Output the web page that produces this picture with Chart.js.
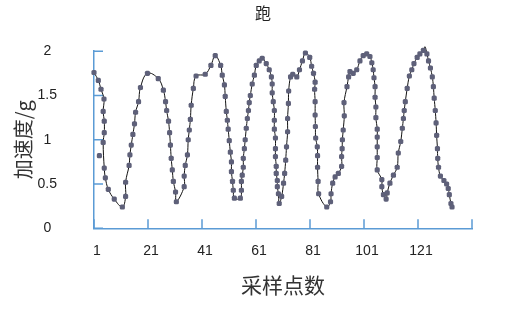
<!DOCTYPE html>
<html>
<head>
<meta charset="utf-8">
<script src="https://cdn.jsdelivr.net/npm/chart.js@4.4.0/dist/chart.umd.min.js"></script>
<style>
html, body { margin: 0; padding: 0; background: #fff; }
</style>
</head>
<body>
<canvas id="runChart" width="515" height="317"></canvas>
<script>
// sample index (x) and acceleration in g (y)
const sampleX = [
    1.0, 2.6, 3.6, 4.7, 4.4, 4.8, 4.8, 4.4, 3.0, 4.8, 5.2, 6.3, 8.5, 11.5, 12.7, 12.7, 14.0, 14.3, 14.8, 15.4,
    16.0, 16.4, 17.5, 18.2, 20.8, 24.8, 26.7, 27.5, 27.9, 28.6, 29.0, 29.3, 29.6, 30.0, 30.4, 31.2, 31.5, 34.4, 34.4, 34.8,
    35.6, 35.9, 36.3, 36.7, 37.0, 37.8, 38.8, 42.2, 44.3, 45.9, 47.9, 48.5, 49.3, 49.6, 50.0, 50.4, 50.7, 51.1, 51.5, 51.9,
    51.9, 52.3, 52.6, 53.0, 55.2, 55.6, 55.6, 55.9, 56.3, 56.3, 56.7, 57.0, 57.4, 57.8, 58.2, 58.5, 58.9, 59.6, 60.4, 61.1,
    62.2, 63.3, 64.8, 65.9, 66.7, 67.0, 67.0, 67.4, 67.8, 67.8, 67.8, 68.2, 68.2, 68.2, 68.5, 68.5, 68.9, 68.9, 69.3, 69.6,
    70.5, 71.2, 71.6, 72.0, 72.3, 72.7, 72.7, 73.0, 73.1, 73.8, 74.6, 76.1, 77.1, 78.2, 79.3, 80.9, 81.6, 82.3, 82.9, 82.7,
    82.9, 82.9, 83.0, 83.1, 83.7, 83.8, 83.8, 84.0, 84.2, 87.2, 88.6, 88.8, 89.4, 90.3, 91.5, 92.7, 92.7, 92.9, 93.0, 93.3,
    93.7, 93.6, 94.7, 95.3, 95.8, 97.0, 98.3, 99.5, 100.7, 102.0, 103.2, 103.9, 104.4, 104.7, 105.1, 105.1, 105.4, 105.4, 105.9, 105.9,
    105.9, 105.9, 105.9, 107.6, 107.6, 108.2, 109.2, 109.6, 110.6, 111.9, 113.3, 113.7, 114.6, 115.2, 115.6, 115.9, 116.3, 117.0, 117.8, 118.7,
    119.5, 120.7, 121.7, 123.0, 123.6, 124.3, 124.9, 125.6, 126.3, 126.7, 127.0, 127.4, 127.7, 127.9, 128.2, 128.3, 128.6, 129.3, 130.6, 131.6,
    132.2, 132.6, 133.2, 133.6
];
const accel = [
    1.76, 1.67, 1.57, 1.46, 1.32, 1.21, 1.08, 0.97, 0.82, 0.68, 0.57, 0.44, 0.33, 0.24, 0.36, 0.52, 0.71, 0.83, 0.94, 1.06,
    1.18, 1.31, 1.43, 1.59, 1.75, 1.69, 1.56, 1.43, 1.33, 1.21, 1.08, 0.94, 0.79, 0.66, 0.53, 0.41, 0.30, 0.47, 0.59, 0.71,
    0.83, 1.00, 1.11, 1.23, 1.39, 1.58, 1.72, 1.74, 1.84, 1.95, 1.84, 1.73, 1.62, 1.49, 1.32, 1.22, 1.12, 0.99, 0.86, 0.75,
    0.64, 0.53, 0.43, 0.34, 0.34, 0.43, 0.53, 0.60, 0.69, 0.79, 0.90, 1.00, 1.13, 1.24, 1.33, 1.42, 1.50, 1.63, 1.73, 1.84,
    1.89, 1.92, 1.86, 1.79, 1.71, 1.63, 1.53, 1.43, 1.33, 1.22, 1.12, 1.02, 0.90, 0.81, 0.70, 0.62, 0.54, 0.47, 0.39, 0.28,
    0.36, 0.51, 0.62, 0.77, 0.92, 1.09, 1.24, 1.41, 1.55, 1.71, 1.74, 1.71, 1.79, 1.89, 1.98, 1.93, 1.83, 1.75, 1.65, 1.57,
    1.43, 1.28, 1.15, 1.02, 0.92, 0.82, 0.69, 0.53, 0.39, 0.24, 0.30, 0.39, 0.51, 0.58, 0.62, 0.70, 0.81, 0.90, 1.00, 1.11,
    1.27, 1.42, 1.60, 1.71, 1.77, 1.75, 1.79, 1.89, 1.95, 1.97, 1.94, 1.87, 1.79, 1.70, 1.60, 1.48, 1.37, 1.25, 1.12, 1.03,
    0.92, 0.80, 0.66, 0.55, 0.47, 0.38, 0.33, 0.40, 0.51, 0.60, 0.69, 0.85, 0.98, 1.13, 1.24, 1.33, 1.43, 1.58, 1.72, 1.79,
    1.86, 1.93, 1.97, 2.01, 2.05, 1.97, 1.89, 1.81, 1.71, 1.60, 1.47, 1.33, 1.19, 1.05, 0.90, 0.79, 0.69, 0.59, 0.54, 0.50,
    0.45, 0.38, 0.28, 0.24
];
// points the smooth line does not pass through
const offLine = [8];

const xTicks = [1, 21, 41, 61, 81, 101, 121, 141];
const xTickLabels = ['1', '21', '41', '61', '81', '101', '121', ''];

const axisColor = '#5B9BD5';
const cjk = '"Noto Sans CJK SC", "Noto Sans", sans-serif';
const latin = '"Liberation Sans", Arial, sans-serif';

const points = sampleX.map((x, i) => ({ x: x, y: accel[i] }));
const linePoints = points.filter((p, i) => offLine.indexOf(i) < 0);

// excel style tick marks pointing into the plot
const innerTicks = {
    id: 'innerTicks',
    beforeDatasetsDraw(chart) {
        const ctx = chart.ctx, xs = chart.scales.x, ys = chart.scales.y, area = chart.chartArea;
        ctx.save();
        ctx.strokeStyle = axisColor;
        ctx.lineWidth = 1.5;
        ctx.beginPath();
        xs.ticks.forEach(t => {
            const px = xs.getPixelForValue(t.value);
            ctx.moveTo(px, area.bottom);
            ctx.lineTo(px, area.bottom - 9);
        });
        ys.ticks.forEach(t => {
            const py = ys.getPixelForValue(t.value);
            ctx.moveTo(area.left, py);
            ctx.lineTo(area.left + 9, py);
        });
        ctx.stroke();
        ctx.restore();
    }
};

const ctx = document.getElementById('runChart').getContext('2d');
new Chart(ctx, {
    type: 'scatter',
    data: {
        datasets: [
            {
                data: points,
                showLine: false,
                pointStyle: 'rectRounded',
                pointRadius: 3,
                pointBackgroundColor: '#5E6079',
                pointBorderWidth: 0,
                clip: false
            },
            {
                data: linePoints,
                showLine: true,
                borderColor: '#111111',
                borderWidth: 1,
                tension: 0.4,
                pointRadius: 0,
                clip: false
            }
        ]
    },
    options: {
        responsive: false,
        animation: false,
        layout: { padding: { left: 11, right: 0, top: 0, bottom: 0 } },
        plugins: {
            legend: { display: false },
            tooltip: { enabled: false },
            title: {
                display: true,
                text: '跑',
                color: '#222',
                font: { family: cjk, size: 16, weight: 'normal' },
                padding: { top: 3, bottom: 29 }
            }
        },
        scales: {
            x: {
                type: 'linear',
                min: 1,
                max: 141,
                afterBuildTicks: s => { s.ticks = xTicks.map(v => ({ value: v })); },
                afterFit: s => { s.height = 88.7; s.paddingRight = 43; },
                grid: { display: false },
                border: { display: true, color: axisColor, width: 1.5 },
                ticks: {
                    padding: 6,
                    labelOffset: 3,
                    maxRotation: 0,
                    autoSkip: false,
                    color: '#222',
                    font: { family: latin, size: 14 },
                    callback: (v, i) => xTickLabels[i]
                },
                title: {
                    display: true,
                    text: '采样点数',
                    color: '#333',
                    font: { family: cjk, size: 21, weight: 'normal' },
                    padding: { top: 0, bottom: 19 }
                }
            },
            y: {
                min: 0,
                max: 2,
                afterFit: s => { s.width = 83; },
                grid: { display: false },
                border: { display: true, color: axisColor, width: 1.5 },
                ticks: {
                    stepSize: 0.5,
                    padding: 29,
                    crossAlign: 'center',
                    color: '#222',
                    font: { family: latin, size: 14 },
                    callback: v => String(v)
                },
                title: {
                    display: true,
                    text: '加速度/g',
                    color: '#333',
                    font: { family: cjk, size: 20, weight: 'normal' },
                    padding: { top: 0, bottom: 0 }
                }
            }
        }
    },
    plugins: [innerTicks]
});
</script>
</body>
</html>
